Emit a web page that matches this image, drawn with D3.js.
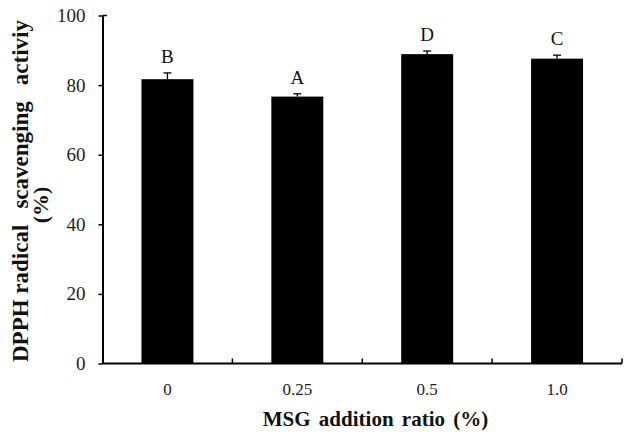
<!DOCTYPE html>
<html><head><meta charset="utf-8">
<script src="https://cdn.jsdelivr.net/npm/d3@7"></script>
<style>body{margin:0;background:#fff}svg{display:block}text{font-family:"Liberation Serif","Times New Roman",serif}</style>
</head><body>
<svg id="c" width="627" height="441"></svg>
<script>
const categories = ["0", "0.25", "0.5", "1.0"];
const values = [81.7, 76.7, 88.9, 87.6];
const errors = [1.8, 0.8, 0.9, 1.0];
const letters = ["B", "A", "D", "C"];
const yTicks = [0, 20, 40, 60, 80, 100];

const svg = d3.select("#c");
const x = d3.scaleBand().domain(categories).range([102.5, 622]).paddingInner(0.6).paddingOuter(0.3);
const y = d3.scaleLinear().domain([0, 100]).range([363.5, 15.5]);

// bars
svg.selectAll("rect.bar").data(values).enter().append("rect")
  .attr("x", (d, i) => x(categories[i]))
  .attr("y", d => y(d))
  .attr("width", x.bandwidth())
  .attr("height", d => y(0) - y(d))
  .attr("fill", "#000");

// error bars (upper)
const g = svg.append("g").attr("stroke", "#000").attr("stroke-width", 1.3);
values.forEach((v, i) => {
  const cx = x(categories[i]) + x.bandwidth() / 2;
  g.append("line").attr("x1", cx).attr("x2", cx).attr("y1", y(v)).attr("y2", y(v + errors[i]));
  g.append("line").attr("x1", cx - 4).attr("x2", cx + 4).attr("y1", y(v + errors[i])).attr("y2", y(v + errors[i]));
});

// letters
svg.selectAll("text.lt").data(letters).enter().append("text")
  .attr("x", (d, i) => x(categories[i]) + x.bandwidth() / 2)
  .attr("y", (d, i) => y(values[i] + errors[i]) - 10)
  .attr("text-anchor", "middle").attr("font-size", 19).attr("fill", "#111")
  .text(d => d);

// y axis
const yAxis = d3.axisLeft(y).tickValues(yTicks).tickSize(4).tickPadding(13).tickSizeOuter(0);
const ya = svg.append("g").attr("transform", "translate(102.5,0)").call(yAxis);
ya.select(".domain").attr("stroke-width", 2);
ya.selectAll(".tick line").attr("stroke-width", 1.5);
ya.selectAll("text").attr("font-size", 19).attr("fill", "#222");
svg.append("line").attr("x1", 102.5).attr("x2", 107).attr("y1", y(100)).attr("y2", y(100)).attr("stroke", "#000").attr("stroke-width", 1.5);

// x axis
const xa = svg.append("g").attr("transform", `translate(0,${y(0)})`);
xa.append("line").attr("x1", 102.5).attr("x2", 622).attr("stroke", "#000").attr("stroke-width", 2);
const step = x.step();
const bounds = categories.slice(1).map(c => x(c) - (step - x.bandwidth()) / 2).concat([622]);
xa.selectAll("line.tk").data(bounds).enter().append("line")
  .attr("x1", d => d).attr("x2", d => d).attr("y1", 0).attr("y2", -5)
  .attr("stroke", "#000").attr("stroke-width", 1.5);
xa.selectAll("text").data(categories).enter().append("text")
  .attr("x", d => x(d) + x.bandwidth() / 2).attr("y", 31)
  .attr("text-anchor", "middle").attr("font-size", 17).attr("fill", "#222")
  .text(d => d);

// axis titles
svg.append("text").attr("x", 375.5).attr("y", 426).attr("text-anchor", "middle")
  .attr("font-size", 21).attr("font-weight", "bold").attr("fill", "#111").attr("word-spacing", 3)
  .text("MSG addition ratio (%)");

const yt = svg.append("text").attr("transform", "translate(27.5,191) rotate(-90)").attr("text-anchor", "middle")
  .attr("font-size", 23).attr("font-weight", "bold").attr("fill", "#111");
yt.append("tspan").text("DPPH radical");
const t2 = yt.append("tspan").text(" scavenging");
const t3 = yt.append("tspan").text(" activiy");
const target = 342;
const extra = Math.max(0, Math.min(12, (target - yt.node().getComputedTextLength()) / 2));
t2.attr("dx", extra); t3.attr("dx", extra);

svg.append("text").attr("transform", "translate(48,205) rotate(-90)").attr("text-anchor", "middle")
  .attr("font-size", 22).attr("font-weight", "bold").attr("fill", "#111")
  .text("(%)");
</script>
</body></html>
